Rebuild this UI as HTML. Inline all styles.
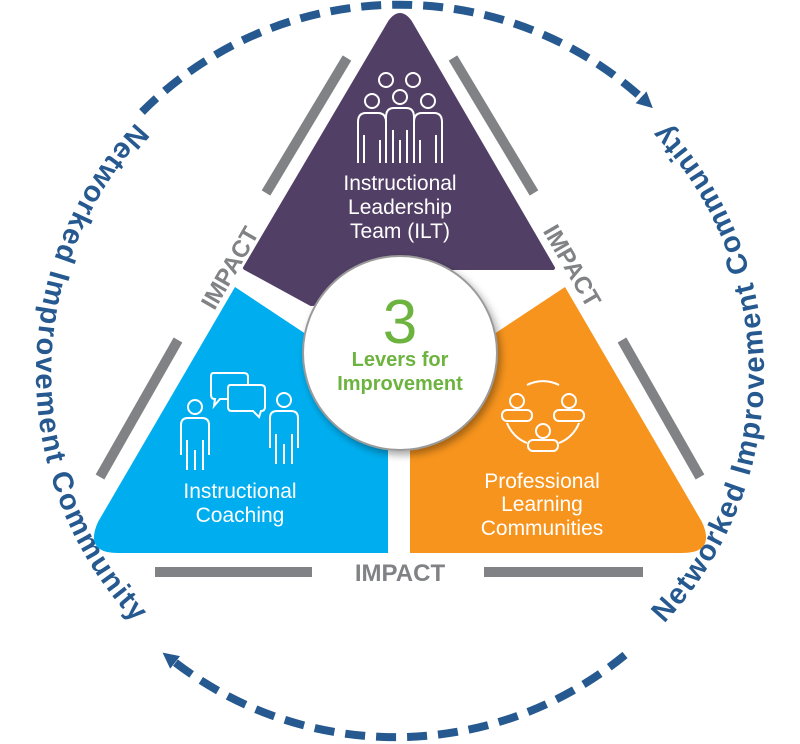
<!DOCTYPE html>
<html><head><meta charset="utf-8"><style>html,body{margin:0;padding:0;background:#fff}svg{display:block}</style></head>
<body>
<svg width="800" height="744" viewBox="0 0 800 744" xmlns="http://www.w3.org/2000/svg">
<defs>
<marker id="ah" markerWidth="20" markerHeight="20" refX="4" refY="10" orient="auto" markerUnits="userSpaceOnUse">
<path d="M0,2 L16,10 L0,18 z" fill="#26598f"/>
</marker>
<path id="lp" d="M400,9 A364,364 0 0 0 400,737"/>
<path id="rp" d="M400,737 A364,364 0 0 0 400,9"/>
<filter id="sh" x="-30%" y="-30%" width="160%" height="160%"><feDropShadow dx="3" dy="4" stdDeviation="4" flood-color="#000" flood-opacity="0.35"/></filter>
</defs>

<!-- dashed arcs -->
<path d="M142,112 A362,362 0 0 1 644,100" fill="none" stroke="#26598f" stroke-width="8" stroke-dasharray="20 11" marker-end="url(#ah)"/>
<path d="M625,655 A362,362 0 0 1 172,660" fill="none" stroke="#26598f" stroke-width="8" stroke-dasharray="20 11" marker-end="url(#ah)"/>

<!-- circular text -->
<text font-family="Liberation Sans, sans-serif" font-weight="bold" font-size="29" fill="#26598f" letter-spacing="1.5"><textPath href="#lp" startOffset="50%" text-anchor="middle">Networked Improvement Community</textPath></text>
<text font-family="Liberation Sans, sans-serif" font-weight="bold" font-size="29" fill="#26598f" letter-spacing="1.5"><textPath href="#rp" startOffset="50%" text-anchor="middle">Networked Improvement Community</textPath></text>

<!-- gray bars -->
<g stroke="#808285" stroke-width="10" fill="none">
<line x1="347" y1="58" x2="266" y2="193"/>
<line x1="178" y1="340" x2="100" y2="477"/>
<line x1="453" y1="58" x2="534" y2="193"/>
<line x1="622" y1="340" x2="700" y2="477"/>
<line x1="155" y1="572" x2="312" y2="572"/>
<line x1="484" y1="572" x2="643" y2="572"/>
</g>
<g font-family="Liberation Sans, sans-serif" font-weight="bold" font-size="24" fill="#808285" text-anchor="middle">
<text x="400" y="581">IMPACT</text>
<text transform="translate(230,268) rotate(-60)" x="0" y="8">IMPACT</text>
<text transform="translate(572,266) rotate(60)" x="0" y="8">IMPACT</text>
</g>

<!-- triangle pieces -->
<path d="M390,22 Q400,8 410,22 L553,268 L400,268 L400,300 L311,304 L245,268 Z" fill="#523f66" stroke="#523f66" stroke-width="4" stroke-linejoin="round"/>
<path d="M235,287 L330,350 L388,380 L388,553 L118,553 Q84,553 98,522 Z" fill="#00aeef"/>
<path d="M565,287 L470,350 L410,380 L410,553 L682,553 Q716,553 702,522 Z" fill="#f7941d"/>

<!-- center circle -->
<circle cx="400" cy="353" r="97" fill="#fff" stroke="#9a9a9a" stroke-width="2" filter="url(#sh)"/>
<text x="400" y="343" text-anchor="middle" font-family="Liberation Sans, sans-serif" font-size="62" fill="#6db33f">3</text>
<text x="400" y="366" text-anchor="middle" font-family="Liberation Sans, sans-serif" font-weight="bold" font-size="20" fill="#6db33f">Levers for</text>
<text x="400" y="390" text-anchor="middle" font-family="Liberation Sans, sans-serif" font-weight="bold" font-size="20" fill="#6db33f">Improvement</text>

<!-- labels -->
<g font-family="Liberation Sans, sans-serif" font-size="21" fill="#fff" text-anchor="middle">
<text x="400" y="190">Instructional</text>
<text x="400" y="214">Leadership</text>
<text x="400" y="238">Team (ILT)</text>
<text x="240" y="498">Instructional</text>
<text x="240" y="522">Coaching</text>
<text x="542" y="488">Professional</text>
<text x="542" y="511">Learning</text>
<text x="542" y="535">Communities</text>
</g>

<!-- ILT icon -->
<g stroke="#fff" stroke-width="2" fill="none">
<circle cx="386" cy="80" r="7"/><circle cx="413" cy="80" r="7"/>
<circle cx="372" cy="101" r="7"/><circle cx="400" cy="97" r="7"/><circle cx="428" cy="101" r="7"/>
<path d="M358,163 V122 Q358,113 366,113 H378 Q386,113 386,122 V140"/>
<path d="M442,163 V122 Q442,113 434,113 H422 Q414,113 414,122 V140"/>
<path d="M386,163 V117 Q386,108 394,108 H406 Q414,108 414,117 V163"/>
<path d="M364,163 V135 M380,163 V140 M393,163 V130 M400,163 V140 M407,163 V130 M420,163 V140 M436,163 V135"/>
</g>

<!-- Coaching icon -->
<g stroke="#fff" stroke-width="2" fill="none">
<circle cx="195" cy="407" r="7"/>
<path d="M181,455 V425 Q181,418 188,418 H202 Q209,418 209,425 V455 M187,470 V440 M195,470 V450 M203,470 V440"/>
<circle cx="284" cy="400" r="7"/>
<path d="M270,448 V418 Q270,411 277,411 H291 Q298,411 298,418 V448 M276,464 V434 M284,464 V444 M292,464 V434"/>
<path d="M213,373 H244 Q248,373 248,377 V395 Q248,399 244,399 H220 L214,406 L215,399 Q211,399 211,395 V377 Q211,373 213,373 Z"/>
<path d="M230,385 H261 Q265,385 265,389 V407 Q265,411 261,411 L259,417 L253,411 H232 Q228,411 228,407 V389 Q228,385 230,385 Z" fill="#00aeef"/>
</g>

<!-- PLC icon -->
<g stroke="#fff" stroke-width="2" fill="none">
<path d="M527,385 A35,35 0 0 1 559,385"/>
<path d="M507,423 A35,35 0 0 0 527,443"/>
<path d="M579,423 A35,35 0 0 1 559,443"/>
<circle cx="517" cy="401" r="7"/><circle cx="569" cy="401" r="7"/><circle cx="543" cy="431" r="7"/>
<rect x="502" y="410" width="30" height="11" rx="5"/>
<rect x="554" y="410" width="30" height="11" rx="5"/>
<rect x="528" y="440" width="30" height="11" rx="5"/>
</g>
</svg>
</body></html>
